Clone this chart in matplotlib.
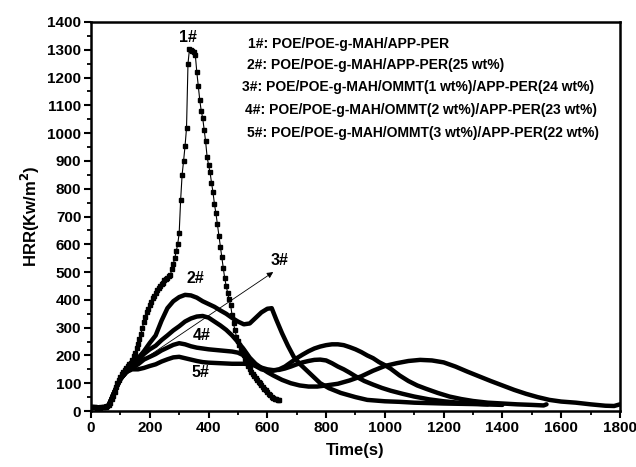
import numpy as np
import matplotlib
matplotlib.use("Agg")
import matplotlib.pyplot as plt
from matplotlib.ticker import MultipleLocator

plt.rcParams['font.family'] = ['Liberation Sans', 'DejaVu Sans']
plt.rcParams['font.weight'] = 'bold'

# ---- data ----
t1 = list(range(0, 645, 5))
hrr1 = [15, 14, 13, 13, 12, 12, 12, 13, 14, 15, 16, 18,
        22, 30, 42, 55, 70, 85, 100, 112, 122, 132, 140, 148, 155, 162, 168, 172,
        185, 198, 210, 225, 240, 258, 278, 300, 322, 340, 355, 368, 380, 392, 405,
        415, 425, 435, 442, 450, 458, 462, 470, 475, 480, 485, 490, 510, 530, 550,
        575, 600, 640, 760, 850, 900, 954, 1018, 1250, 1302, 1300, 1297, 1292, 1280,
        1220, 1170, 1120, 1080, 1055, 1012, 970, 915, 885, 860, 822, 788, 745, 712,
        672, 630, 590, 555, 515, 478, 450, 425, 402, 382, 345, 315, 290, 267, 252,
        238, 225, 212, 200, 188, 175, 162, 150, 142, 134, 126, 118, 112, 106, 101,
        94, 88, 80, 74, 68, 62, 56, 51, 48, 45, 42, 40, 38]

t_start = [0, 20, 40, 60, 80, 100, 120]
hrr_start = [14, 13, 12, 20, 70, 115, 140]

t2 = t_start + [140, 160, 180, 200, 220, 240, 260, 280, 300, 320, 340, 360, 380, 400,
                420, 440, 460, 480, 500, 520, 540, 560, 580, 600, 615, 630, 650, 670,
                690, 710, 730, 760, 780, 810, 850, 900, 940, 1000, 1050, 1100, 1200,
                1300, 1400]
hrr2 = hrr_start + [160, 190, 215, 245, 272, 325, 370, 395, 410, 418, 416, 408, 395,
                    385, 375, 362, 350, 335, 322, 312, 315, 335, 355, 368, 370, 330,
                    280, 235, 195, 170, 150, 120, 100, 82, 65, 50, 40, 35, 33, 30, 27,
                    25, 22]

t3 = t_start + [140, 160, 180, 200, 220, 240, 260, 280, 300, 320, 340, 360, 380, 400,
                420, 440, 460, 480, 500, 520, 540, 560, 580, 600, 620, 650, 680, 710,
                740, 770, 800, 840, 880, 920, 960, 1000, 1040, 1080, 1120, 1160, 1200,
                1240, 1280, 1320, 1360, 1400, 1440, 1480, 1520, 1560, 1600, 1650, 1700,
                1750, 1780, 1800]
hrr3 = hrr_start + [158, 180, 205, 222, 235, 255, 272, 290, 305, 322, 333, 340, 342,
                    336, 322, 308, 292, 272, 248, 222, 192, 170, 155, 140, 128, 112,
                    100, 92, 88, 88, 92, 98, 110, 125, 145, 162, 172, 180, 184, 182,
                    175, 160, 142, 125, 108, 92, 76, 62, 50, 40, 34, 30, 24, 19, 18, 24]

t4 = t_start + [140, 160, 180, 200, 220, 240, 260, 280, 300, 320, 340, 360, 380, 400,
                420, 440, 460, 480, 500, 520, 540, 560, 580, 600, 620, 640, 660, 680,
                700, 720, 740, 760, 780, 800, 820, 840, 860, 880, 900, 920, 940, 960,
                980, 1000, 1020, 1050, 1080, 1110, 1140, 1180, 1220, 1260, 1300, 1350,
                1400, 1450, 1500, 1540, 1550]
hrr4 = hrr_start + [155, 168, 185, 195, 205, 218, 228, 238, 244, 240, 233, 228, 225,
                    222, 220, 218, 216, 214, 210, 200, 180, 162, 150, 145, 145, 150,
                    160, 175, 190, 203, 215, 225, 232, 237, 240, 240, 237, 230, 222,
                    212, 200, 190, 176, 165, 152, 128, 108, 92, 80, 65, 52, 43, 36,
                    30, 27, 24, 22, 20, 24]

t5 = t_start + [140, 160, 180, 200, 220, 240, 260, 280, 300, 320, 340, 360, 380, 400,
                440, 480, 520, 540, 560, 580, 600, 620, 640, 660, 680, 700, 720, 740,
                760, 780, 800, 820, 840, 860, 880, 900, 930, 960, 990, 1020, 1060,
                1100, 1150, 1200, 1250, 1300, 1350]
hrr5 = hrr_start + [150, 150, 155, 162, 168, 178, 186, 193, 195, 190, 185, 180, 176,
                    174, 172, 170, 170, 168, 163, 156, 150, 147, 148, 153, 160, 168,
                    175, 180, 184, 185, 182, 172, 160, 150, 138, 125, 108, 95, 83, 73,
                    62, 52, 42, 35, 30, 27, 24]

legend_lines = ["1#: POE/POE-g-MAH/APP-PER",
                "2#: POE/POE-g-MAH/APP-PER(25 wt%)",
                "3#: POE/POE-g-MAH/OMMT(1 wt%)/APP-PER(24 wt%)",
                "4#: POE/POE-g-MAH/OMMT(2 wt%)/APP-PER(23 wt%)",
                "5#: POE/POE-g-MAH/OMMT(3 wt%)/APP-PER(22 wt%)"]

# ---- figure ----
fig = plt.figure(figsize=(6.36, 4.67), dpi=100)
ax = fig.add_axes([0.1431, 0.1199, 0.8317, 0.8330])

for tt, hh in [(t2, hrr2), (t3, hrr3), (t4, hrr4), (t5, hrr5)]:
    ax.plot(tt, hh, color='black', lw=3.2, solid_joinstyle='round', solid_capstyle='round')
ax.plot(t1, hrr1, color='black', lw=0.8, marker='s', ms=3.4, mec='black', mfc='black')

ax.set_xlim(0, 1800)
ax.set_ylim(0, 1400)
ax.xaxis.set_major_locator(MultipleLocator(200))
ax.xaxis.set_minor_locator(MultipleLocator(100))
ax.yaxis.set_major_locator(MultipleLocator(100))
ax.yaxis.set_minor_locator(MultipleLocator(50))
ax.tick_params(which='major', direction='out', length=5, width=1.5, labelsize=11,
               top=False, right=False, pad=2)
ax.tick_params(which='minor', direction='out', length=3, width=1.3, top=False, right=False)
for lab in ax.get_xticklabels() + ax.get_yticklabels():
    lab.set_fontweight('bold')
for sp in ax.spines.values():
    sp.set_linewidth(1.8)

ax.set_xlabel('Time(s)', fontsize=12, fontweight='bold', labelpad=6)
ax.set_ylabel('HRR(Kw/m$^\\mathbf{2}$)', fontsize=12, fontweight='bold', labelpad=4)

# labels on curves
ax.text(330, 1318, '1#', fontsize=11.5, fontweight='bold', ha='center', va='bottom')
ax.text(355, 478, '2#', fontsize=11.5, fontweight='bold', ha='center', va='center')
ax.text(643, 540, '3#', fontsize=11.5, fontweight='bold', ha='center', va='center')
ax.text(376, 272, '4#', fontsize=11.5, fontweight='bold', ha='center', va='center')
ax.text(371, 138, '5#', fontsize=11.5, fontweight='bold', ha='center', va='center')
ax.annotate('', xy=(620, 500), xytext=(150, 165),
            arrowprops=dict(arrowstyle='-|>', color='black', lw=0.6,
                            mutation_scale=9, shrinkA=0, shrinkB=0))

ys = [1320, 1245, 1165, 1082, 1000]
xs = [535, 532, 515, 525, 530]
for x, y, s in zip(xs, ys, legend_lines):
    ax.text(x, y, s, fontsize=10, fontweight='bold', ha='left', va='center')

fig.savefig('out.png', dpi=100)
